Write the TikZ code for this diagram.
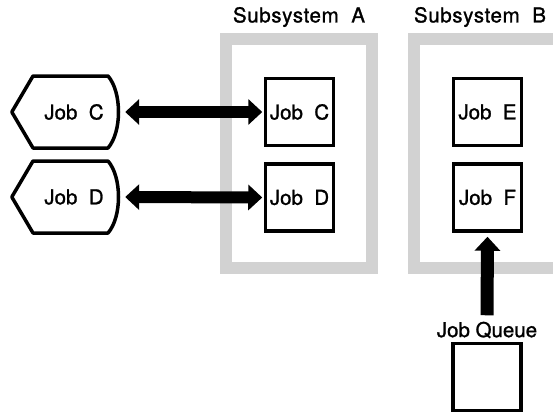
\documentclass[tikz,border=0pt]{standalone}
\usepackage{fontspec}
\setmainfont{TeX Gyre Heros}[FakeBold=1.2]
\usetikzlibrary{arrows.meta}
\begin{document}
\begin{tikzpicture}[x=1pt, y=-1pt,
font=\fontsize{20.5}{22}\selectfont,
frame/.style={draw=gray!35, line width=12pt, minimum width=146pt, minimum height=229pt},
title/.style={font=\fontsize{20.5}{22}\selectfont\addfontfeature{LetterSpace=3}},
job/.style={draw, line width=3.5pt, minimum width=68pt, minimum height=67pt, inner sep=0pt},
display/.style={minimum width=108pt, minimum height=74pt, inner sep=0pt},
fat/.style={line width=12pt, -{Triangle[width=25pt,length=14pt]}},
dbl/.style={line width=12pt, {Triangle[width=25pt,length=14pt]}-{Triangle[width=25pt,length=14pt]}}]
\clip (0,0) rectangle (553,412);
\node[frame] (frameA) at (299,153.5) {};
\node[frame] (frameB) at (487,153.5) {};
\node[title] (labA) at (299,17) {Subsystem~~A};
\node[title] (labB) at (480,17) {Subsystem~~B};
\node[job] (jobCa) at (299.5,112) {Job~~C};
\node[job] (jobDa) at (299.5,197.5) {Job~~D};
\node[job] (jobE) at (487.5,112) {Job~~E};
\node[job] (jobF) at (487.5,197.5) {Job~~F};
\node (queue) at (487,330) {Job Queue};
\node[job] (qbox) at (487,377) {};
% displays on the left
\foreach \n/\y in {C/112, D/197} {
	\node[display] (disp\n) at (66,\y) {\hspace{16pt}Job~~\n};
	\draw[line width=3.5pt, line join=round] (disp\n.west) -- (33,\y-36) -- (108,\y-36)
		.. controls (122,\y-20) and (122,\y+20) .. (108,\y+36) -- (33,\y+36) -- cycle;
}
\draw[dbl, shorten <=5pt, shorten >=1.5pt] (dispC.east) -- (jobCa.west);
\draw[dbl, shorten <=5pt, shorten >=1.5pt] (dispD.east) -- (jobDa.west);
\draw[fat, line width=13pt, shorten <=3pt, shorten >=4pt] (queue.north) -- (jobF.south);
\end{tikzpicture}
\end{document}
